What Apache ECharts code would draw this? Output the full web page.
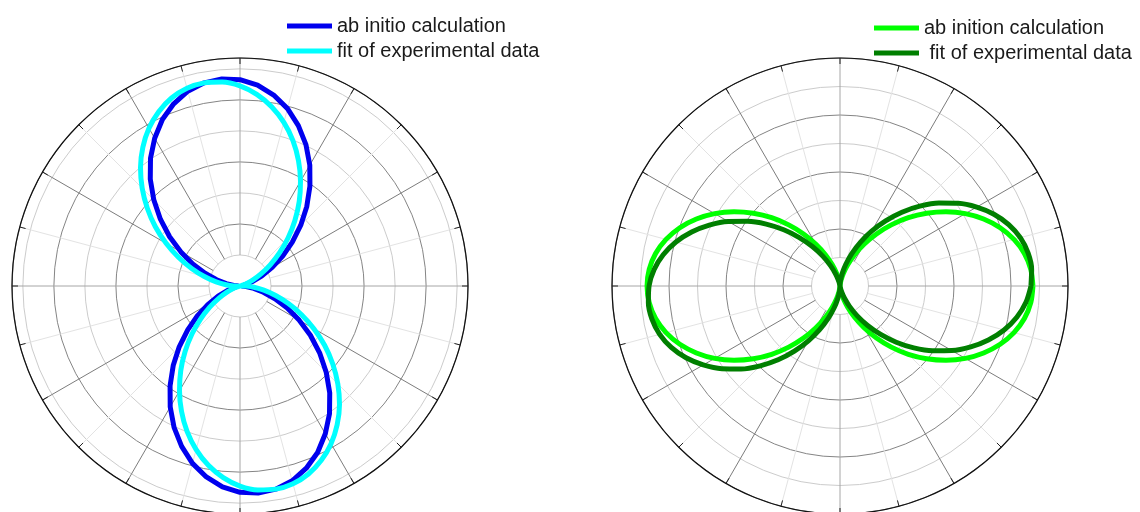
<!DOCTYPE html>
<html>
<head>
<meta charset="utf-8">
<title>Angular distributions</title>
<script src="https://cdn.jsdelivr.net/npm/echarts@6/dist/echarts.min.js"></script>
<style>
  html, body { margin: 0; padding: 0; background: #ffffff; }
  #chart { width: 1140px; height: 512px; }
</style>
</head>
<body>
<div id="chart"></div>
<script>
// Polar angle of every sample, degrees (0 = +x, counter-clockwise)
const angles = [
  0, 5, 10, 15, 20, 25, 30, 35, 40, 45, 50, 55, 60, 65, 70, 75, 80, 85, 90,
  95, 100, 105, 110, 115, 120, 125, 130, 135, 140, 145, 150, 155, 160, 165, 170, 175, 180,
  185, 190, 195, 200, 205, 210, 215, 220, 225, 230, 235, 240, 245, 250, 255, 260, 265, 270,
  275, 280, 285, 290, 295, 300, 305, 310, 315, 320, 325, 330, 335, 340, 345, 350, 355, 360
];

// Left panel: vertical lobes
const leftNames = ['ab initio calculation', 'fit of experimental data'];
const leftAbInitio = [
  0.05, 0.00, 0.05, 0.20, 0.45, 0.78, 1.20, 1.68, 2.20, 2.77, 3.35, 3.93, 4.50, 5.03, 5.50, 5.92, 6.25, 6.50, 6.65,
  6.70, 6.65, 6.50, 6.25, 5.92, 5.50, 5.03, 4.50, 3.93, 3.35, 2.77, 2.20, 1.68, 1.20, 0.78, 0.45, 0.20, 0.05,
  0.00, 0.05, 0.20, 0.45, 0.78, 1.20, 1.68, 2.20, 2.77, 3.35, 3.93, 4.50, 5.03, 5.50, 5.92, 6.25, 6.50, 6.65,
  6.70, 6.65, 6.50, 6.25, 5.92, 5.50, 5.03, 4.50, 3.93, 3.35, 2.77, 2.20, 1.68, 1.20, 0.78, 0.45, 0.20, 0.05
];
const leftFit = [
  0.20, 0.05, 0.00, 0.05, 0.20, 0.45, 0.78, 1.19, 1.66, 2.19, 2.75, 3.33, 3.90, 4.46, 4.99, 5.46, 5.87, 6.20, 6.45,
  6.60, 6.65, 6.60, 6.45, 6.20, 5.87, 5.46, 4.99, 4.46, 3.90, 3.33, 2.75, 2.19, 1.66, 1.19, 0.78, 0.45, 0.20,
  0.05, 0.00, 0.05, 0.20, 0.45, 0.78, 1.19, 1.66, 2.19, 2.75, 3.33, 3.90, 4.46, 4.99, 5.46, 5.87, 6.20, 6.45,
  6.60, 6.65, 6.60, 6.45, 6.20, 5.87, 5.46, 4.99, 4.46, 3.90, 3.33, 2.75, 2.19, 1.66, 1.19, 0.78, 0.45, 0.20
];

// Right panel: horizontal lobes
const rightNames = ['ab inition calculation', ' fit of experimental data'];
const rightAbInitio = [
  6.77, 6.72, 6.57, 6.32, 5.98, 5.56, 5.08, 4.54, 3.97, 3.39, 2.80, 2.23, 1.69, 1.21, 0.79, 0.45, 0.20, 0.05, 0.00,
  0.05, 0.20, 0.45, 0.79, 1.21, 1.69, 2.23, 2.80, 3.39, 3.97, 4.54, 5.08, 5.56, 5.98, 6.32, 6.57, 6.72, 6.77,
  6.72, 6.57, 6.32, 5.98, 5.56, 5.08, 4.54, 3.97, 3.39, 2.80, 2.23, 1.69, 1.21, 0.79, 0.45, 0.20, 0.05, 0.00,
  0.05, 0.20, 0.45, 0.79, 1.21, 1.69, 2.23, 2.80, 3.39, 3.97, 4.54, 5.08, 5.56, 5.98, 6.32, 6.57, 6.72, 6.77
];
const rightFit = [
  6.70, 6.75, 6.70, 6.55, 6.30, 5.96, 5.54, 5.06, 4.53, 3.96, 3.38, 2.79, 2.22, 1.69, 1.21, 0.79, 0.45, 0.20, 0.05,
  0.00, 0.05, 0.20, 0.45, 0.79, 1.21, 1.69, 2.22, 2.79, 3.38, 3.96, 4.53, 5.06, 5.54, 5.96, 6.30, 6.55, 6.70,
  6.75, 6.70, 6.55, 6.30, 5.96, 5.54, 5.06, 4.53, 3.96, 3.38, 2.79, 2.22, 1.69, 1.21, 0.79, 0.45, 0.20, 0.05,
  0.00, 0.05, 0.20, 0.45, 0.79, 1.21, 1.69, 2.22, 2.79, 3.38, 3.96, 4.53, 5.06, 5.54, 5.96, 6.30, 6.55, 6.70
];

// Radial extent of each panel, in ring units
const leftRadiusMax = 7.35;
const rightRadiusMax = 8;

const pairs = (r) => angles.map((a, i) => [r[i], a]);

const spokeColors = ['#a6a6a6', '#e3e3e3', '#7c7c7c', '#e3e3e3', '#7c7c7c', '#e3e3e3'];
const ringColors = ['#cccccc', '#858585'];

// Grid polar: spokes and rings around an empty centre
function gridAngleAxis(polarIndex) {
  return {
    polarIndex, type: 'value', min: 0, max: 360, interval: 15,
    startAngle: 0, clockwise: false,
    axisLine: { show: false }, axisTick: { show: false }, axisLabel: { show: false },
    splitLine: { show: true, lineStyle: { color: spokeColors, width: 1 } }
  };
}
function gridRadiusAxis(polarIndex, max) {
  return {
    polarIndex, type: 'value', min: 1, max, interval: 1,
    axisLine: { show: false }, axisTick: { show: false }, axisLabel: { show: false },
    splitLine: { show: true, lineStyle: { color: ringColors, width: 1 } }
  };
}
// Data polar: full disc, carries the outer frame and its ticks
function dataAngleAxis(polarIndex) {
  return {
    polarIndex, type: 'value', min: 0, max: 360, interval: 15,
    startAngle: 0, clockwise: false,
    axisLine: { show: true, lineStyle: { color: '#111111', width: 1.2 } },
    axisTick: { show: true, inside: true, length: 6, lineStyle: { color: '#222222', width: 1 } },
    axisLabel: { show: false },
    splitLine: { show: false }
  };
}
function dataRadiusAxis(polarIndex, max) {
  return {
    polarIndex, type: 'value', min: 0, max,
    axisLine: { show: false }, axisTick: { show: false }, axisLabel: { show: false },
    splitLine: { show: false }
  };
}

const legendText = { fontFamily: 'Arial, "Liberation Sans", sans-serif', fontSize: 20, color: '#1a1a1a', lineHeight: 20 };

const option = {
  animation: false,
  backgroundColor: '#ffffff',
  polar: [
    { center: [240, 286], radius: [31, 228] },
    { center: [240, 286], radius: [0, 228] },
    { center: [840, 286], radius: [28.5, 228] },
    { center: [840, 286], radius: [0, 228] }
  ],
  angleAxis: [gridAngleAxis(0), dataAngleAxis(1), gridAngleAxis(2), dataAngleAxis(3)],
  radiusAxis: [
    gridRadiusAxis(0, leftRadiusMax), dataRadiusAxis(1, leftRadiusMax),
    gridRadiusAxis(2, rightRadiusMax), dataRadiusAxis(3, rightRadiusMax)
  ],
  legend: [
    {
      data: leftNames, orient: 'vertical', left: 287, top: 16,
      itemWidth: 45, itemHeight: 5, itemGap: 5, icon: 'rect', padding: 0,
      textStyle: legendText
    },
    {
      data: rightNames, orient: 'vertical', left: 874, top: 18,
      itemWidth: 45, itemHeight: 5, itemGap: 5, icon: 'rect', padding: 0,
      textStyle: legendText
    }
  ],
  series: [
    {
      name: leftNames[0], type: 'line', coordinateSystem: 'polar', polarIndex: 1,
      data: pairs(leftAbInitio), showSymbol: false, color: '#0000ee',
      lineStyle: { width: 5, color: '#0000ee' }
    },
    {
      name: leftNames[1], type: 'line', coordinateSystem: 'polar', polarIndex: 1,
      data: pairs(leftFit), showSymbol: false, smooth: 0.3, color: '#00ffff',
      lineStyle: { width: 5, color: '#00ffff' }
    },
    {
      name: rightNames[0], type: 'line', coordinateSystem: 'polar', polarIndex: 3,
      data: pairs(rightAbInitio), showSymbol: false, smooth: 0.3, color: '#00ff00',
      lineStyle: { width: 5, color: '#00ff00' }
    },
    {
      name: rightNames[1], type: 'line', coordinateSystem: 'polar', polarIndex: 3,
      data: pairs(rightFit), showSymbol: false, smooth: 0.3, color: '#007f00',
      lineStyle: { width: 5, color: '#007f00' }
    }
  ]
};

const chart = echarts.init(document.getElementById('chart'), null, { renderer: 'canvas' });
chart.setOption(option);
</script>
</body>
</html>
